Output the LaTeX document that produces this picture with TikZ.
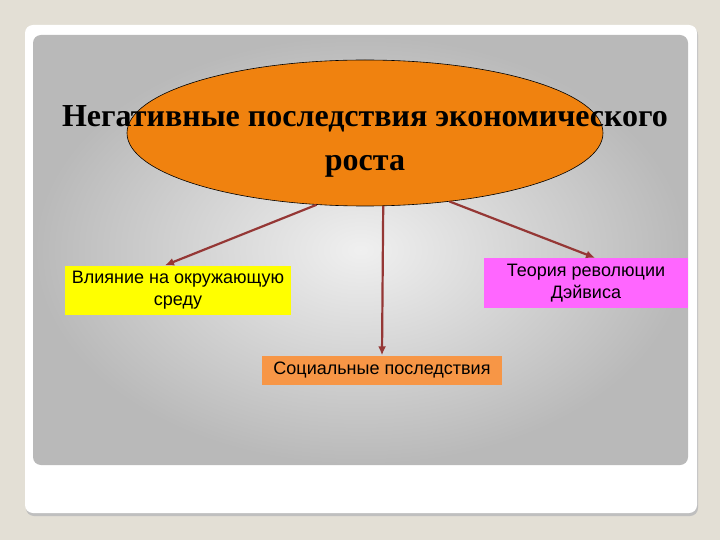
\documentclass[tikz,border=0pt]{standalone}
\usepackage{fontspec}
\setmainfont{Liberation Sans}
\newfontfamily\titlefont{Liberation Serif}
\usetikzlibrary{shapes.geometric}
\usetikzlibrary{arrows.meta}

\definecolor{slidebg}{HTML}{E3DFD5}
\definecolor{ovalfill}{HTML}{F0820F}
\definecolor{arrowred}{HTML}{953735}
\definecolor{boxyellow}{HTML}{FFFF00}
\definecolor{boxpink}{HTML}{FF66FF}
\definecolor{boxorange}{HTML}{F79646}

\tikzset{
	topic/.style={rectangle, inner sep=0pt, align=center, font=\fontsize{18}{22}\selectfont},
	link/.style={draw=arrowred, line width=2.2pt, -{Latex[length=9pt, width=8pt]}}
}

\begin{document}
\begin{tikzpicture}[x=1pt, y=-1pt]

% Slide background.

	\useasboundingbox (0,0) rectangle (720,540);
	\fill[slidebg] (0,0) rectangle (720,540);
	\fill[black!25, rounded corners=8pt] (26,27) rectangle (698,516);
	\fill[white, rounded corners=8pt] (25,25) rectangle (697,513);
	\shade[inner color=gray!12, outer color=gray!55, rounded corners=8pt]
		(33,35) rectangle (688,465);

% Draw oval and title.

	\node[ellipse, draw=black, line width=0.6pt, fill=ovalfill,
		minimum width=476pt, minimum height=146pt] (oval) at (365,133) {};
	\node[align=center, font=\titlefont\bfseries\fontsize{32}{44}\selectfont] (title) at (365,141)
		{Негативные последствия экономического\\роста};

% Draw boxes.

	\node[topic, fill=boxyellow, minimum width=226pt, minimum height=49pt] (nature) at (178,290)
		{Влияние на окружающую\\среду};
	\node[topic, fill=boxpink, minimum width=204pt, minimum height=50pt] (davies) at (586,283)
		{Теория революции\\Дэйвиса};
	\node[topic, fill=boxorange, minimum width=240pt, minimum height=29pt] (social) at (382,370)
		{Социальные последствия};

% Draw arrows.

	\draw[link] (oval.-124) -- ([xshift=-13pt]nature.north);
	\draw[link] (oval.-76) -- (social.north);
	\draw[link] (oval.-39.5) -- ([xshift=9pt]davies.north);

\end{tikzpicture}
\end{document}
